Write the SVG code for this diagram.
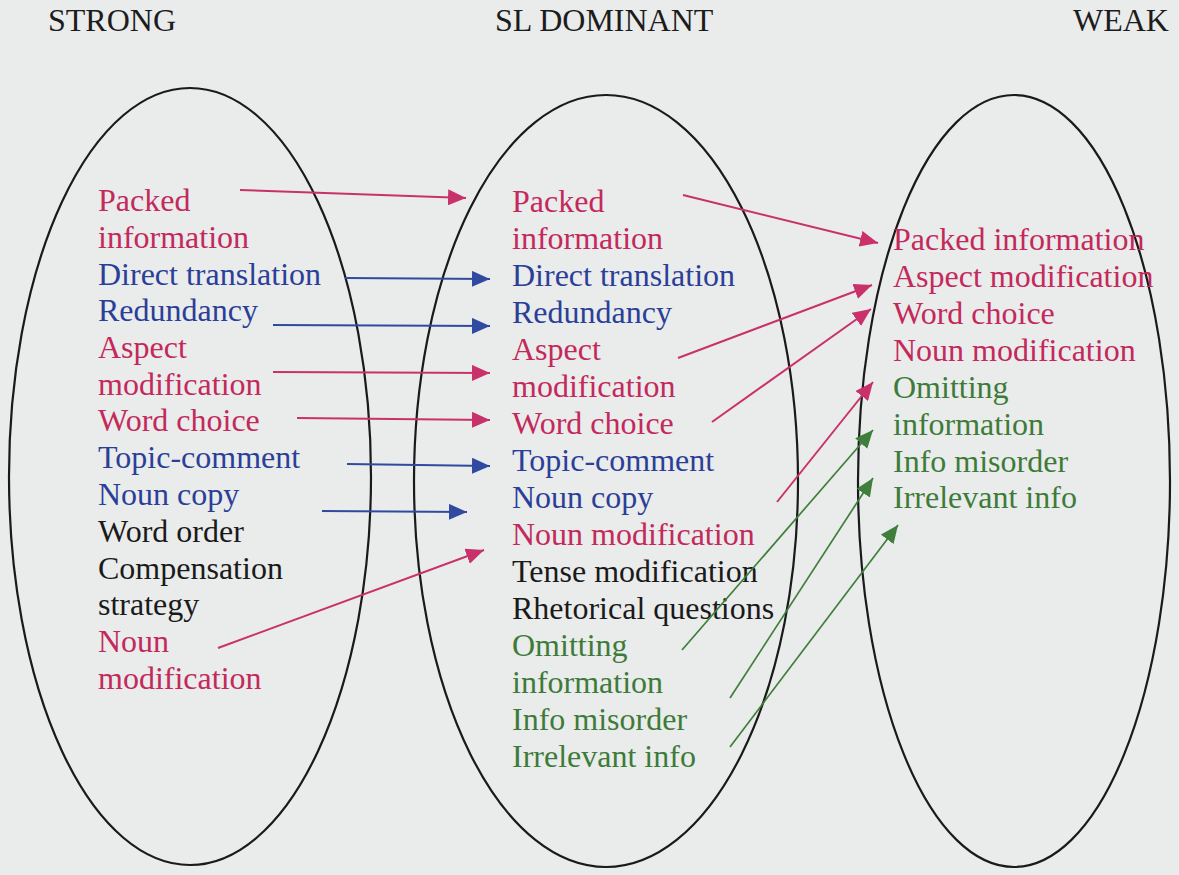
<svg xmlns="http://www.w3.org/2000/svg" width="1179" height="875" viewBox="0 0 1179 875">
  <style>
    text { font-family: "Liberation Serif", "Times New Roman", serif; font-size: 32px; }
    .title { fill: #1c1c1c; }
    .r { fill: #c3295b; }
    .b { fill: #2a3f98; }
    .g { fill: #3d7b39; }
    .k { fill: #1a1a1a; }
    .oval { fill: none; stroke: #1a1a1a; stroke-width: 2.2; }
    .lr { stroke: #c9316a; stroke-width: 2; marker-end: url(#ar); }
    .lb { stroke: #2f4aa0; stroke-width: 2; marker-end: url(#ab); }
    .lg { stroke: #3f7f3b; stroke-width: 1.7; marker-end: url(#ag); }
  </style>
  <defs>
    <marker id="ar" markerUnits="userSpaceOnUse" markerWidth="19" markerHeight="16" refX="18" refY="8" orient="auto">
      <path d="M0,0 L18,8 L0,16 z" fill="#c9316a"/>
    </marker>
    <marker id="ab" markerUnits="userSpaceOnUse" markerWidth="19" markerHeight="16" refX="18" refY="8" orient="auto">
      <path d="M0,0 L18,8 L0,16 z" fill="#2f4aa0"/>
    </marker>
    <marker id="ag" markerUnits="userSpaceOnUse" markerWidth="19" markerHeight="16" refX="18" refY="8" orient="auto">
      <path d="M0,0 L18,8 L0,16 z" fill="#3f7f3b"/>
    </marker>
  </defs>

  <rect width="1179" height="875" fill="#eaebeb"/>

  <!-- column headings -->
  <g id="titles">
    <text class="title" x="48" y="31">STRONG</text>
    <text class="title" x="495" y="31">SL DOMINANT</text>
    <text class="title" x="1073" y="31">WEAK</text>
  </g>

  <!-- STRONG set -->
  <g id="strong">
    <ellipse class="oval" cx="190" cy="476.5" rx="181" ry="388.5"/>
    <text x="98" y="211" class="r">Packed</text>
    <text x="98" y="248" class="r">information</text>
    <text x="98" y="285" class="b">Direct translation</text>
    <text x="98" y="321" class="b">Redundancy</text>
    <text x="98" y="358" class="r">Aspect</text>
    <text x="98" y="395" class="r">modification</text>
    <text x="98" y="431" class="r">Word choice</text>
    <text x="98" y="468" class="b">Topic-comment</text>
    <text x="98" y="505" class="b">Noun copy</text>
    <text x="98" y="542" class="k">Word order</text>
    <text x="98" y="579" class="k">Compensation</text>
    <text x="98" y="615" class="k">strategy</text>
    <text x="98" y="652" class="r">Noun</text>
    <text x="98" y="689" class="r">modification</text>
  </g>

  <!-- SL DOMINANT set -->
  <g id="sl-dominant">
    <ellipse class="oval" cx="606" cy="481" rx="192" ry="386"/>
    <text x="512" y="212" class="r">Packed</text>
    <text x="512" y="249" class="r">information</text>
    <text x="512" y="286" class="b">Direct translation</text>
    <text x="512" y="323" class="b">Redundancy</text>
    <text x="512" y="360" class="r">Aspect</text>
    <text x="512" y="397" class="r">modification</text>
    <text x="512" y="434" class="r">Word choice</text>
    <text x="512" y="471" class="b">Topic-comment</text>
    <text x="512" y="508" class="b">Noun copy</text>
    <text x="512" y="545" class="r">Noun modification</text>
    <text x="512" y="582" class="k">Tense modification</text>
    <text x="512" y="619" class="k">Rhetorical questions</text>
    <text x="512" y="656" class="g">Omitting</text>
    <text x="512" y="693" class="g">information</text>
    <text x="512" y="730" class="g">Info misorder</text>
    <text x="512" y="767" class="g">Irrelevant info</text>
  </g>

  <!-- WEAK set -->
  <g id="weak">
    <ellipse class="oval" cx="1014" cy="481" rx="156" ry="386"/>
    <text x="893" y="250" class="r">Packed information</text>
    <text x="893" y="287" class="r">Aspect modification</text>
    <text x="893" y="324" class="r">Word choice</text>
    <text x="893" y="361" class="r">Noun modification</text>
    <text x="893" y="398" class="g">Omitting</text>
    <text x="893" y="435" class="g">information</text>
    <text x="893" y="472" class="g">Info misorder</text>
    <text x="893" y="508" class="g">Irrelevant info</text>
  </g>

  <!-- connectors -->
  <g id="connectors" fill="none">
    <!-- STRONG to SL DOMINANT -->
    <line class="lr" x1="240" y1="190" x2="466" y2="198"/>
    <line class="lb" x1="345" y1="278" x2="490" y2="279"/>
    <line class="lb" x1="273" y1="325" x2="490" y2="326"/>
    <line class="lr" x1="273" y1="372" x2="490" y2="373"/>
    <line class="lr" x1="297" y1="418" x2="490" y2="420"/>
    <line class="lb" x1="347" y1="464" x2="490" y2="466"/>
    <line class="lb" x1="322" y1="511" x2="467" y2="512"/>
    <line class="lr" x1="218" y1="648" x2="484" y2="550"/>
    <!-- SL DOMINANT to WEAK -->
    <line class="lr" x1="683" y1="195" x2="878" y2="243"/>
    <line class="lr" x1="678" y1="358" x2="872" y2="285"/>
    <line class="lr" x1="712" y1="422" x2="871" y2="309"/>
    <line class="lr" x1="777" y1="502" x2="873" y2="382"/>
    <line class="lg" x1="682" y1="650" x2="873" y2="430"/>
    <line class="lg" x1="730" y1="698" x2="873" y2="478"/>
    <line class="lg" x1="730" y1="747" x2="898" y2="525"/>
  </g>
</svg>
